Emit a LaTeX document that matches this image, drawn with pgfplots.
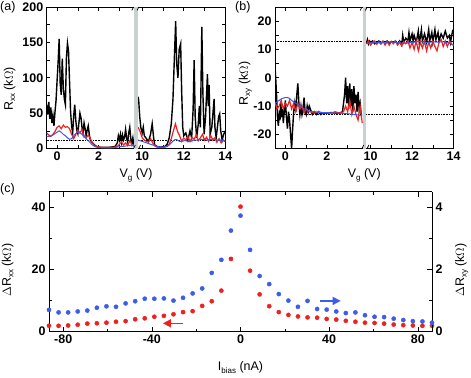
\documentclass[border=0pt]{standalone}
\usepackage{fontspec}
\setmainfont{Liberation Sans}
\usepackage{pgfplots}
\pgfplotsset{compat=1.18}
\usepackage{pgfplotstable}
\usetikzlibrary{arrows.meta}

\definecolor{tracered}{RGB}{238,32,32}
\definecolor{traceblue}{RGB}{60,92,235}
\definecolor{bargray}{RGB}{200,208,208}

\newcommand{\sub}[1]{\raisebox{-0.35ex}{\fontsize{8}{8}\selectfont #1}}
\newcommand{\lblfont}{\fontsize{12.5}{14}\selectfont}

% panels (a) and (b): left segment Vg as is, right segment shifted by -5.9
\pgfplotstableread{
v k
-0.50 62
-0.45 48
-0.40 66
-0.35 42
-0.30 58
-0.25 36
-0.20 47
-0.15 32
-0.10 52
-0.05 68
0.00 96
0.05 122
0.10 155
0.15 92
0.20 76
0.25 127
0.30 86
0.35 70
0.40 62
0.45 128
0.50 149
0.55 138
0.60 95
0.65 52
0.70 32
0.75 22
0.80 46
0.85 62
0.90 40
0.95 26
1.00 21
1.05 36
1.10 50
1.15 44
1.20 30
1.25 22
1.30 36
1.35 28
1.40 18
1.45 26
1.50 32
1.55 20
1.60 12
1.70 8
1.80 5
1.90 3
2.00 2
2.20 1.5
2.40 1.5
2.60 2
2.80 3
2.90 8
2.95 18
3.00 12
3.05 20
3.10 9
3.15 19
3.20 12
3.25 16
3.30 27
3.35 14
3.40 9
3.45 22
3.50 30
3.55 14
3.60 7
3.65 15
3.70 4
}\aBlackL

\pgfplotstableread{
v r b
-0.5 22 17
-0.4 19 17
-0.3 17 18
-0.2 20 19
-0.1 24 21
0.0 30 23
0.1 32 25
0.2 28 23
0.3 33 20
0.4 30 18
0.5 31 15
0.6 28 13
0.7 20 14
0.8 14 18
0.9 20 21
1.0 26 23
1.1 22 22
1.2 27 20
1.3 18 17
1.4 15 14
1.5 19 11
1.6 14 8
1.7 8 5
1.8 4 3
1.9 3 2
2.0 2 1.5
2.2 1.5 1
2.4 1.5 1
2.6 1.5 1
2.8 2 1.5
2.9 3 2
3.0 6 2.5
3.1 9 3
3.2 5 3
3.3 8 3.5
3.4 4 4
3.5 11 4.5
3.6 6 5
3.7 3 5
}\aColL

\pgfplotstableread{
v k
9.80 73
9.83 68
9.88 45
9.93 30
10.00 22
10.05 30
10.10 18
10.20 14
10.30 10
10.40 20
10.48 35
10.55 15
10.60 5
10.70 3
10.90 2
11.10 3
11.20 6
11.30 15
11.40 35
11.48 70
11.55 130
11.61 180
11.66 120
11.72 100
11.78 140
11.85 148
11.90 80
11.95 30
12.00 18
12.10 22
12.20 12
12.30 25
12.38 15
12.45 55
12.50 125
12.55 45
12.62 15
12.70 35
12.75 60
12.80 30
12.87 172
12.92 80
12.98 20
13.05 45
13.14 105
13.18 60
13.22 90
13.27 20
13.35 30
13.42 55
13.46 70
13.50 30
13.56 15
13.62 30
13.68 45
13.73 49
13.78 25
13.85 12
13.92 20
14.00 25
}\aBlackR

\pgfplotstableread{
v r b
9.8 30 12
9.9 24 11
10.0 15 10
10.1 12 9
10.2 10 8
10.3 9 7
10.4 14 6
10.5 8 5
10.6 4 4
10.7 2 3
10.8 1.5 2.5
10.9 1.5 2
11.0 1.5 2
11.1 2 2.5
11.2 3 3
11.3 6 5
11.4 14 8
11.5 25 11
11.6 35 13
11.7 24 12
11.8 18 10
11.9 10 10
12.0 15 11
12.1 12 11
12.2 17 10
12.3 10 10
12.4 16 11
12.5 13 12
12.6 19 12
12.7 11 12
12.8 15 13
12.9 20 13
13.0 12 13
13.1 16 12
13.2 10 12
13.3 18 13
13.4 12 13
13.5 15 13
13.6 9 12
13.7 14 12
13.8 8 12
13.9 12 11
14.0 10 10
}\aColR

\pgfplotstableread{
v k
-0.50 4
-0.46 -1
-0.42 -7
-0.38 -14
-0.34 -17
-0.30 -13
-0.26 -15
-0.22 -9
-0.18 -14
-0.14 -11
-0.10 -16
-0.05 -12
0.00 -8
0.05 -14
0.10 -18
0.15 -12
0.20 -15
0.25 -20
0.30 -25
0.35 -18
0.40 -12
0.45 -9
0.50 -12
0.55 -6
0.60 -2
0.65 -9
0.70 -13
0.75 -10
0.80 -13
0.85 -11
0.90 -7
0.95 -12
1.00 -13
1.05 -10
1.10 -12
1.15 -10
1.20 -11
1.30 -13
1.40 -12
1.50 -13
1.60 -12
1.70 -13
1.80 -12.5
2.00 -12.5
2.20 -12.3
2.40 -12.5
2.60 -12.5
2.75 -12
2.85 -6
2.90 0
2.95 -9
3.00 -3
3.05 -11
3.10 -2
3.15 -10
3.20 -4
3.25 -12
3.30 -3
3.35 -9
3.40 -6
3.45 -12
3.50 -5
3.55 -11
3.60 -9
3.65 -13
3.70 -13
}\bBlackL

\pgfplotstableread{
v r b
-0.5 -9 -9
-0.4 -11 -8.5
-0.3 -10 -8
-0.2 -8 -7.5
-0.1 -11 -7.2
0.0 -9 -7
0.1 -10 -7
0.2 -8 -7.3
0.3 -11 -8
0.4 -9 -8.5
0.5 -12 -9
0.6 -9 -9.5
0.7 -11 -10
0.8 -10 -10.5
0.9 -12.5 -11
1.0 -11 -11
1.1 -12 -11.5
1.2 -12 -12
1.4 -12.5 -12
1.6 -12 -12.2
1.8 -12.5 -12.3
2.0 -12.5 -12.3
2.2 -12.5 -12.4
2.4 -12 -12.5
2.6 -12.5 -12.5
2.8 -12 -12.6
2.9 -10 -12.7
3.0 -12 -12.7
3.1 -8 -12.8
3.2 -13 -12.9
3.3 -10 -13
3.4 -13 -13
3.5 -15 -13.2
3.6 -10 -13.4
3.7 -16 -13.5
}\bColL

\pgfplotstableread{
v k
9.80 12
9.85 13.5
9.90 12
9.95 13
10.00 12.5
10.10 13
10.20 12
10.30 12.5
10.40 13
10.50 12
10.60 12.8
10.70 12.3
10.80 13
10.90 12
11.00 12.8
11.10 12.3
11.20 13
11.30 12
11.40 13
11.50 11.5
11.55 15
11.60 12.5
11.70 14
11.80 13
11.85 16
11.90 13
12.00 15.5
12.05 13
12.10 15
12.20 12.5
12.30 16.5
12.35 12
12.45 17
12.50 13
12.60 15.5
12.70 12.5
12.80 17
12.85 13
12.95 16
13.00 12.5
13.10 17
13.15 13.5
13.25 16
13.30 13
13.40 15.5
13.50 14
13.60 16.5
13.70 14
13.80 15
13.85 12.5
13.95 16.5
14.00 16
}\bBlackR

\pgfplotstableread{
v r b
9.8 12 12
9.9 13 12.2
10.0 11.5 12.3
10.1 12.5 12.3
10.2 13 12.4
10.3 11.8 12.3
10.4 12.7 12.4
10.5 12 12.5
10.6 13 12.6
10.7 11.5 12.5
10.8 12.8 12.6
10.9 11.5 12.7
11.0 12.8 12.7
11.1 12 12.6
11.2 13 12.5
11.3 11.5 12.4
11.4 12.7 12.3
11.5 11.3 12.2
11.6 12.8 12.2
11.7 12 12.2
11.8 13 12.3
11.9 10.5 12.4
12.0 12.5 12.5
12.1 10 12.6
12.2 13 12.7
12.3 9.5 12.8
12.4 12.5 12.8
12.5 10.5 12.7
12.6 13 12.6
12.7 9.5 12.5
12.8 12.5 12.5
12.9 10.5 12.6
13.0 13 12.7
13.1 11 12.7
13.2 9.5 12.6
13.3 12.5 12.6
13.4 13.5 12.7
13.5 11 12.7
13.6 13 12.6
13.7 11 12.4
13.8 13 12.2
13.9 12 11.8
14.0 11.5 11.5
}\bColR

% panel (c)
\pgfplotstableread{
I rxx rxy
-86.40 1.9 0.70
-82.08 1.9 0.62
-77.76 2.0 0.62
-73.44 2.25 0.65
-69.12 2.6 0.68
-64.80 2.7 0.77
-60.48 2.9 0.815
-56.16 3.2 0.80
-51.84 3.4 0.91
-47.52 4.0 0.98
-43.20 4.3 1.06
-38.88 4.8 1.06
-34.56 5.1 1.07
-30.24 5.6 1.00
-25.92 6.3 1.09
-21.60 6.6 1.23
-17.28 8.3 1.39
-12.96 9.8 1.89
-8.64 13.2 2.31
-4.32 23.4 3.25
0.00 40.2 3.73
4.32 19.6 2.63
8.64 12.0 1.79
12.96 8.2 1.53
17.28 6.3 1.21
21.60 5.4 1.00
25.92 4.9 0.80
30.24 4.6 0.99
34.56 4.5 0.73
38.88 4.1 0.71
43.20 3.9 0.65
47.52 3.5 0.60
51.84 3.2 0.62
56.16 2.9 0.53
60.48 2.8 0.48
64.80 2.6 0.47
69.12 2.3 0.42
73.44 2.1 0.375
77.76 2.0 0.34
82.08 1.9 0.33
86.40 1.9 0.29
}\cData

\pgfplotsset{
  base/.style={
    scale only axis,
    tick align=inside,
    major tick length=3.5bp, minor tick length=3.5bp,
    every tick/.style={black, line width=0.6bp},
    axis line style={line width=0.8bp},
    tick label style={font=\lblfont\bfseries},
    /pgf/number format/assume math mode=true,
    label style={font=\lblfont, inner sep=0pt},
  },
  panel/.style={
    base,
    width=178.6bp, height=141.5bp,
    xmin=-0.5, xmax=8.1,
    xtick={0,1,2,3,4.1,5.1,6.1,7.1,8.1},
    xticklabels={0,,2,,10,,12,,14},
    minor y tick num=1,
    xlabel={V\sub{g} (V)},
    x label style={at={(axis description cs:0.5,0)}, anchor=north, yshift=-20bp},
  },
  blk/.style={black, line width=1.4bp, no marks},
  rd/.style={tracered, line width=1.2bp, no marks},
  bl/.style={traceblue, line width=1.0bp, no marks},
}

% gray gap bar and break marks, x range -0.5..8.1
\newcommand{\gap}{%
  \fill[bargray] (rel axis cs:0.4907,0) rectangle (rel axis cs:0.5116,1);
  \draw[line width=0.7bp] ([xshift=-2.5bp,yshift=-3.5bp]rel axis cs:0.4907,0) -- ([xshift=1bp,yshift=3.5bp]rel axis cs:0.4907,0);
  \draw[line width=0.7bp] ([xshift=-1bp,yshift=-3.5bp]rel axis cs:0.5116,0) -- ([xshift=2.5bp,yshift=3.5bp]rel axis cs:0.5116,0);
  \draw[line width=0.7bp] ([xshift=-2.5bp,yshift=-3.5bp]rel axis cs:0.4907,1) -- ([xshift=1bp,yshift=3.5bp]rel axis cs:0.4907,1);
  \draw[line width=0.7bp] ([xshift=-1bp,yshift=-3.5bp]rel axis cs:0.5116,1) -- ([xshift=2.5bp,yshift=3.5bp]rel axis cs:0.5116,1);
}

\begin{document}
\begin{tikzpicture}
\useasboundingbox (0,0) rectangle (471bp,-378bp);

\node[anchor=north west, inner sep=0pt, font=\lblfont] at (0bp,-1bp) {(a)};
\node[anchor=north west, inner sep=0pt, font=\lblfont] at (235bp,-1bp) {(b)};
\node[anchor=north west, inner sep=0pt, font=\lblfont] at (0bp,-183bp) {(c)};

% (a)
\begin{axis}[panel,
  at={(46.7bp,-148.5bp)}, anchor=south west,
  ymin=0, ymax=200, ytick={0,50,...,200},
  ylabel={R\sub{xx} (k$\Omega$)},
  y label style={at={(axis description cs:-0.174,0.42)}, anchor=south},
]
\addplot[black, densely dotted, line width=0.6bp] coordinates {(-0.5,11) (8.1,11)};
\addplot[blk] table[x=v, y=k] {\aBlackL};
\addplot[blk] table[x expr=\thisrow{v}-5.9, y=k] {\aBlackR};
\addplot[rd] table[x=v, y=r] {\aColL};
\addplot[rd] table[x expr=\thisrow{v}-5.9, y=r] {\aColR};
\addplot[bl] table[x=v, y=b] {\aColL};
\addplot[bl] table[x expr=\thisrow{v}-5.9, y=b] {\aColR};
\gap
\end{axis}

% (b)
\begin{axis}[panel,
  at={(275bp,-148.5bp)}, anchor=south west,
  ymin=-25, ymax=25, ytick={-20,-10,...,20},
  ylabel={R\sub{xy} (k$\Omega$)},
  y label style={at={(axis description cs:-0.129,0.46)}, anchor=south},
]
\addplot[black, densely dotted, line width=0.6bp] coordinates {(-0.5,12.9) (8.1,12.9)};
\addplot[black, densely dotted, line width=0.6bp] coordinates {(-0.5,-12.9) (8.1,-12.9)};
\addplot[blk] table[x=v, y=k] {\bBlackL};
\addplot[blk] table[x expr=\thisrow{v}-5.9, y=k] {\bBlackR};
\addplot[rd] table[x=v, y=r] {\bColL};
\addplot[rd] table[x expr=\thisrow{v}-5.9, y=r] {\bColR};
\addplot[bl] table[x=v, y=b] {\bColL};
\addplot[bl] table[x expr=\thisrow{v}-5.9, y=b] {\bColR};
\gap
\end{axis}

% (c) left axis
\begin{axis}[base,
  at={(49bp,-331.7bp)}, anchor=south west,
  width=383bp, height=140bp,
  major tick length=5bp, minor tick length=3bp,
  xmin=-86.4, xmax=86.4, ymin=0, ymax=45,
  axis y line*=left,
  xtick={-80,-40,0,40,80}, minor x tick num=1,
  ytick={0,20,40}, minor y tick num=1,
  clip=false,
  xlabel={I\sub{bias} (nA)},
  x label style={at={(axis description cs:0.5,0)}, anchor=north, yshift=-30bp},
  ylabel={$\Delta$R\sub{xx} (k$\Omega$)},
  y label style={at={(axis description cs:-0.092,0.44)}, anchor=south},
]
\addplot[only marks, mark=*, mark size=2.1bp, tracered] table[x=I, y=rxx] {\cData};
\draw[tracered, line width=1.4bp, -{Triangle[length=8bp,width=8bp]}] (axis cs:-26,2.7) -- (axis cs:-35,2.7);
\draw[traceblue, line width=1.4bp, -{Triangle[length=8bp,width=8bp]}] (axis cs:36,9.9) -- (axis cs:45.2,9.9);
\end{axis}

% (c) right axis
\begin{axis}[base,
  at={(49bp,-331.7bp)}, anchor=south west,
  width=383bp, height=140bp,
  major tick length=5bp, minor tick length=3bp,
  xmin=-86.4, xmax=86.4, ymin=0, ymax=4.5,
  axis y line*=right, axis x line=none,
  ytick={0,2,4}, minor y tick num=1,
  clip=false,
  ylabel={$\Delta$R\sub{xy} (k$\Omega$)},
  y label style={at={(axis description cs:1.06,0.44)}, anchor=north, rotate=0},
]
\addplot[only marks, mark=*, mark size=2.1bp, traceblue] table[x=I, y=rxy] {\cData};
\end{axis}
\end{tikzpicture}
\end{document}
